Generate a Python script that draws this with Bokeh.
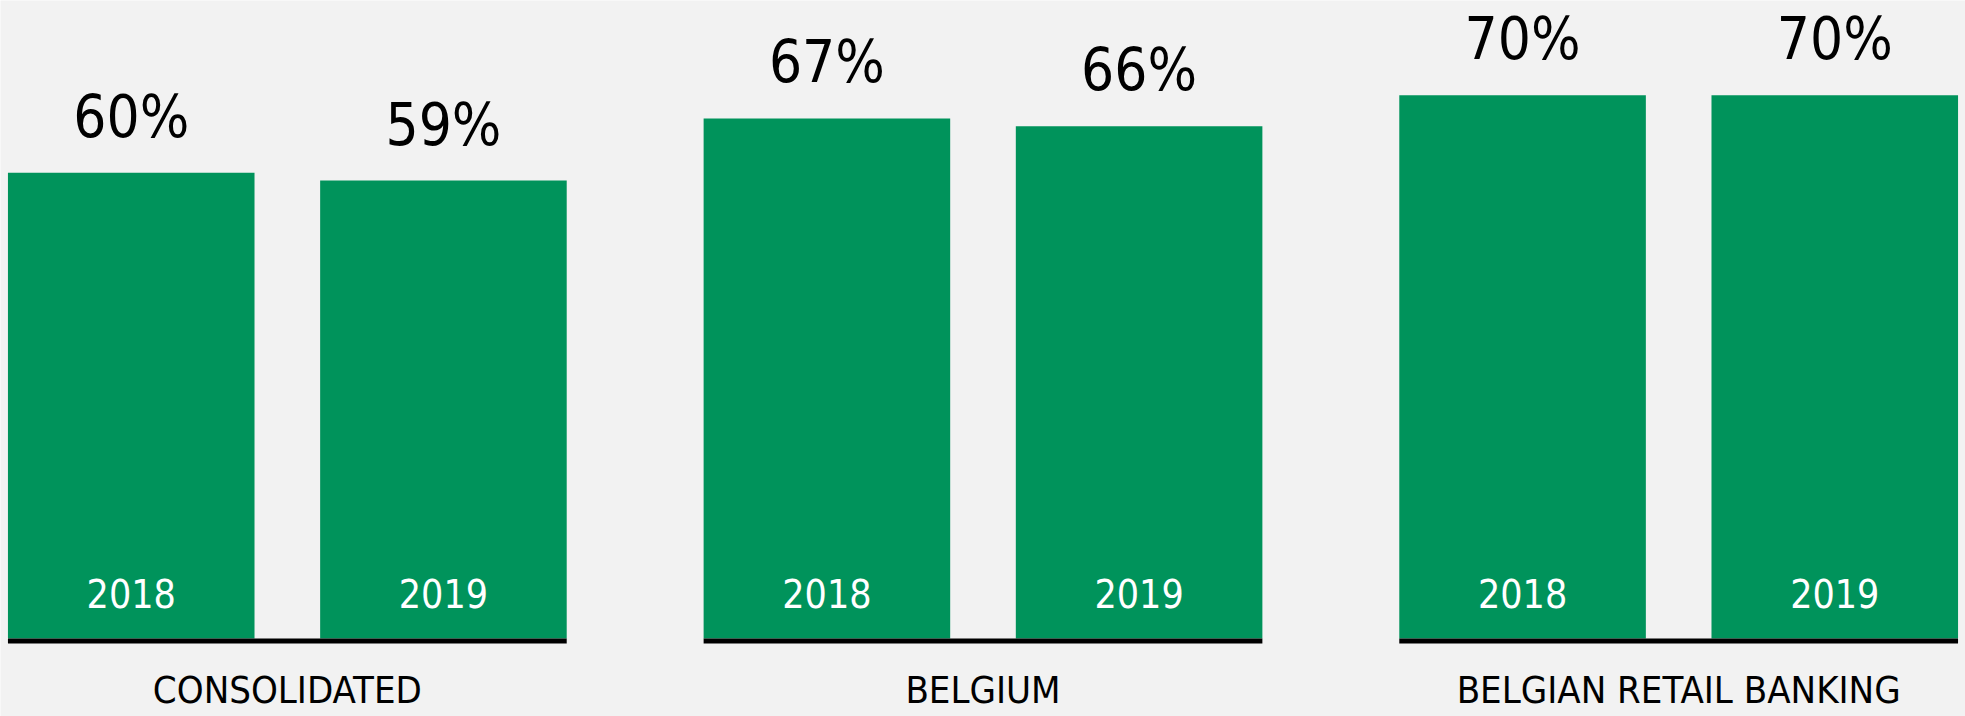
from bokeh.plotting import figure
from bokeh.models import FactorRange, Range1d, ColumnDataSource
from bokeh.embed import file_html
from bokeh.resources import INLINE
from bokeh.core.properties import value

# ---- data ----
groups = ["CONSOLIDATED", "BELGIUM", "BELGIAN RETAIL BANKING"]
years = ["2018", "2019"]
ratio_2018 = [60, 67, 70]
ratio_2019 = [59, 66, 70]

# ---- style ----
GREEN = "#00935B"
BG = "#F2F2F2"
FONT = "DejaVu Sans Condensed, Roboto, sans-serif"
BAR_W = 0.943
FACTOR_PAD = 0.194
GROUP_PAD = 0.4666
W, H = 1965, 716
Y_MIN, Y_MAX = -10.05, 82.2
LINE_PX = 5

factors = [(g, y) for g in groups for y in years]
vals = []
for a, b in zip(ratio_2018, ratio_2019):
    vals += [a, b]
src = ColumnDataSource(dict(
    x=factors,
    v=vals,
    label=[f"{v}%" for v in vals],
    year=[y for _ in groups for y in years],
))

x_range = FactorRange(*factors, factor_padding=FACTOR_PAD,
                      group_padding=GROUP_PAD, range_padding=0)
y_range = Range1d(Y_MIN, Y_MAX)

p = figure(x_range=x_range, y_range=y_range, width=W, height=H,
           output_backend="svg", toolbar_location=None, min_border=0,
           x_axis_location=None, y_axis_location=None,
           background_fill_color=BG, border_fill_color=BG,
           outline_line_color=None)
p.grid.visible = False

p.vbar(x="x", top="v", bottom=0, width=BAR_W, source=src,
       fill_color=GREEN, line_color=None)

line_h = LINE_PX * (Y_MAX - Y_MIN) / H
p.vbar(x=groups, top=0, bottom=-line_h, width=1 + FACTOR_PAD + BAR_W,
       fill_color="black", line_color=None)

p.text(x="x", y="v", text="label", source=src, text_align="center",
       text_baseline="bottom", y_offset=-22, text_color="black",
       text_font=value(FONT), text_font_size="58px")

p.text(x="x", y=0, text="year", source=src, text_align="center",
       text_baseline="bottom", y_offset=-30, text_color="white",
       text_font=value(FONT), text_font_size="39px")

p.text(x=groups, y=[0] * len(groups), text=groups, text_align="center",
       text_baseline="top", y_offset=30, text_color="black",
       text_font=value(FONT), text_font_size="38px")

open("out.html", "w").write(file_html(p, INLINE))
